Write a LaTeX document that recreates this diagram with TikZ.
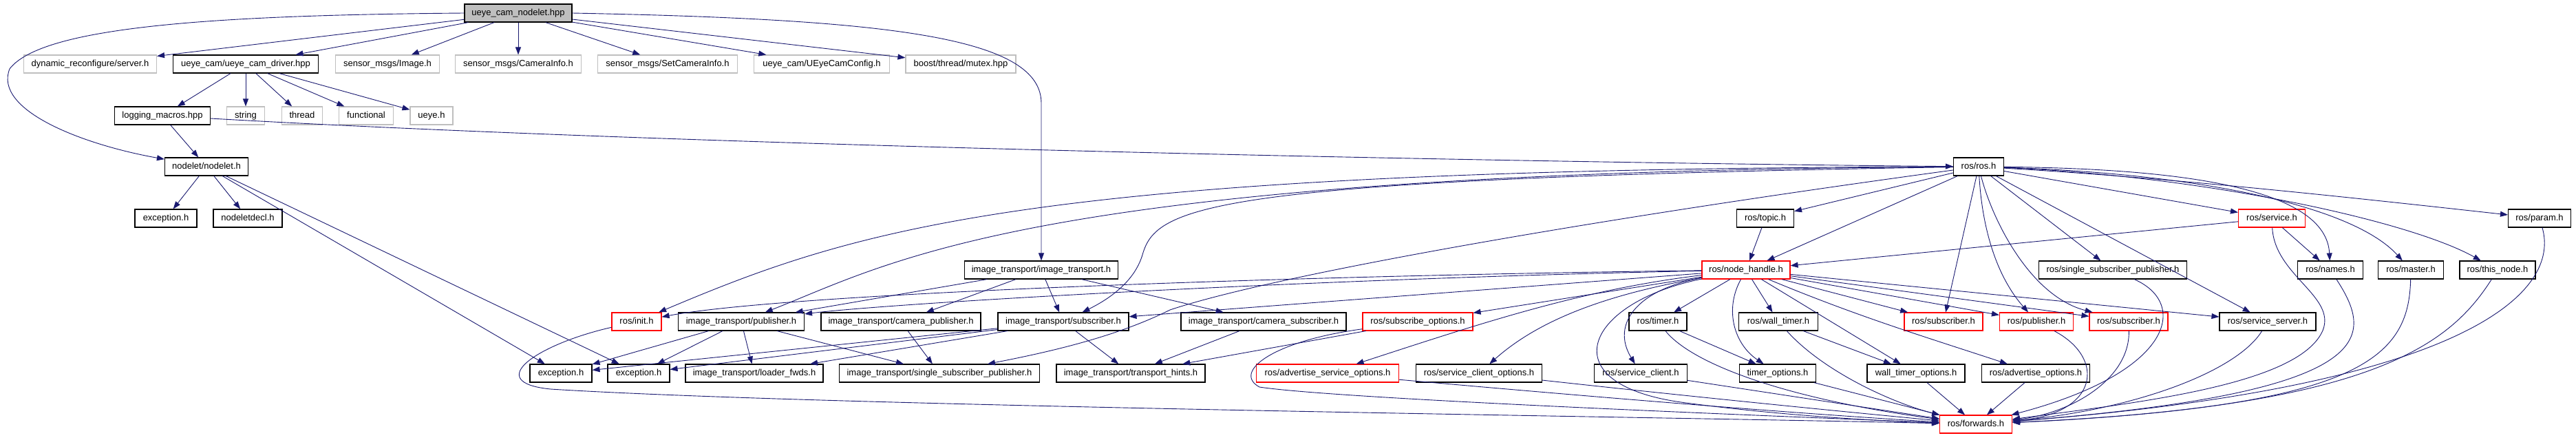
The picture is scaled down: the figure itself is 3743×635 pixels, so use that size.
\documentclass[tikz,border=0pt]{standalone}
\usepackage{fontspec}
\setmainfont{Liberation Sans}
\usepackage{tikz}
\usetikzlibrary{arrows.meta}

\definecolor{edgeblue}{RGB}{25,25,112}
\definecolor{boxgray}{RGB}{191,191,191}

\begin{document}
\begin{tikzpicture}[x=1pt,y=1pt,yscale=-1,
  hdr/.style={draw=black,line width=1.1pt,minimum height=26pt,inner sep=0pt,
    text height=10pt,text depth=3pt,font=\fontsize{13}{15}\selectfont},
  ext/.style={hdr,draw=boxgray},
  trunc/.style={hdr,draw=red},
  root/.style={hdr,fill=boxgray},
  inc/.style={draw=edgeblue,line width=0.9pt,-{Triangle[length=11pt,width=8pt]}}]
  \useasboundingbox (0,0) rectangle (3743,635);

  % Text Node: the file itself
  \node[root,minimum width=156pt] (self) at (753,19) {ueye\_cam\_nodelet.hpp};

  % Text Node: row 1
  \node[ext,minimum width=193pt] (dynsrv) at (131,93) {dynamic\_reconfigure/server.h};
  \node[hdr,minimum width=211pt] (driver) at (357,93) {ueye\_cam/ueye\_cam\_driver.hpp};
  \node[ext,minimum width=151pt] (simg) at (563,93) {sensor\_msgs/Image.h};
  \node[ext,minimum width=183pt] (scinfo) at (753,93) {sensor\_msgs/CameraInfo.h};
  \node[ext,minimum width=203pt] (ssetci) at (970,93) {sensor\_msgs/SetCameraInfo.h};
  \node[ext,minimum width=197pt] (ucfg) at (1194,93) {ueye\_cam/UEyeCamConfig.h};
  \node[ext,minimum width=160pt] (mutex) at (1396,93) {boost/thread/mutex.hpp};

  % Text Node: row 2
  \node[hdr,minimum width=139pt] (logmac) at (236,168) {logging\_macros.hpp};
  \node[ext,minimum width=55pt] (string) at (357,168) {string};
  \node[ext,minimum width=59pt] (thread) at (439,168) {thread};
  \node[ext,minimum width=79pt] (functional) at (532,168) {functional};
  \node[ext,minimum width=62pt] (ueyeh) at (627,168) {ueye.h};

  % Text Node: row 3
  \node[hdr,minimum width=121pt] (nodelet) at (300,242) {nodelet/nodelet.h};
  \node[hdr,minimum width=73pt] (ros) at (2875,242) {ros/ros.h};

  % Text Node: row 4
  \node[hdr,minimum width=90pt] (excA) at (241,317) {exception.h};
  \node[hdr,minimum width=100pt] (ndecl) at (360,317) {nodeletdecl.h};
  \node[hdr,minimum width=83pt] (topic) at (2565,317) {ros/topic.h};
  \node[trunc,minimum width=97pt] (service) at (3301,317) {ros/service.h};
  \node[hdr,minimum width=91pt] (param) at (3690,317) {ros/param.h};

  % Text Node: row 5
  \node[hdr,minimum width=223pt] (itrans) at (1513,392) {image\_transport/image\_transport.h};
  \node[trunc,minimum width=128pt] (nh) at (2537,392) {ros/node\_handle.h};
  \node[hdr,minimum width=215pt] (rssp) at (3070,392) {ros/single\_subscriber\_publisher.h};
  \node[hdr,minimum width=95pt] (names) at (3386,392) {ros/names.h};
  \node[hdr,minimum width=95pt] (master) at (3503,392) {ros/master.h};
  \node[hdr,minimum width=110pt] (thisnode) at (3629,392) {ros/this\_node.h};

  % Text Node: row 6
  \node[trunc,minimum width=72pt] (init) at (925,467) {ros/init.h};
  \node[hdr,minimum width=183pt] (itpub) at (1077,467) {image\_transport/publisher.h};
  \node[hdr,minimum width=232pt] (itcampub) at (1309,467) {image\_transport/camera\_publisher.h};
  \node[hdr,minimum width=190pt] (itsub) at (1545,467) {image\_transport/subscriber.h};
  \node[hdr,minimum width=240pt] (itcamsub) at (1836,467) {image\_transport/camera\_subscriber.h};
  \node[trunc,minimum width=160pt] (subopt) at (2060,467) {ros/subscribe\_options.h};
  \node[hdr,minimum width=84pt] (timer) at (2409,467) {ros/timer.h};
  \node[hdr,minimum width=115pt] (walltimer) at (2584,467) {ros/wall\_timer.h};
  \node[trunc,minimum width=114pt] (subA) at (2824,467) {ros/subscriber.h};
  \node[trunc,minimum width=107pt] (pub) at (2959,467) {ros/publisher.h};
  \node[trunc,minimum width=114pt] (subB) at (3093,467) {ros/subscriber.h};
  \node[hdr,minimum width=140pt] (srvsrv) at (3295,467) {ros/service\_server.h};

  % Text Node: row 7
  \node[hdr,minimum width=90pt] (excB) at (815,542) {exception.h};
  \node[hdr,minimum width=90pt] (excC) at (928,542) {exception.h};
  \node[hdr,minimum width=200pt] (ldfwd) at (1096,542) {image\_transport/loader\_fwds.h};
  \node[hdr,minimum width=291pt] (itssp) at (1365,542) {image\_transport/single\_subscriber\_publisher.h};
  \node[hdr,minimum width=216pt] (hints) at (1643,542) {image\_transport/transport\_hints.h};
  \node[trunc,minimum width=207pt] (advsrvopt) at (1929,542) {ros/advertise\_service\_options.h};
  \node[hdr,minimum width=183pt] (srvcliopt) at (2149,542) {ros/service\_client\_options.h};
  \node[hdr,minimum width=135pt] (srvcli) at (2384,542) {ros/service\_client.h};
  \node[hdr,minimum width=111pt] (timeropt) at (2583,542) {timer\_options.h};
  \node[hdr,minimum width=142pt] (wtopt) at (2784,542) {wall\_timer\_options.h};
  \node[hdr,minimum width=157pt] (advopt) at (2958,542) {ros/advertise\_options.h};

  % Text Node: row 8
  \node[trunc,minimum width=105pt] (fwd) at (2871,616) {ros/forwards.h};

  % Straight Lines: ueye_cam_nodelet.hpp
  \draw[inc] (self) -- (dynsrv);
  \draw[inc] (self) -- (driver);
  \draw[inc] (self) -- (simg);
  \draw[inc] (self) -- (scinfo);
  \draw[inc] (self) -- (ssetci);
  \draw[inc] (self) -- (ucfg);
  \draw[inc] (self) -- (mutex);
  \draw[inc] (self.west) .. controls (300,22) and (60,40) .. (14,100) .. controls (-10,160) and (120,210) .. (nodelet);
  \draw[inc] (self.east) .. controls (1300,28) and (1513,55) .. (1513,150) -- (itrans);

  % Straight Lines: driver and logging
  \draw[inc] (driver) -- (logmac);
  \draw[inc] (driver) -- (string);
  \draw[inc] (driver) -- (thread);
  \draw[inc] (driver) -- (functional);
  \draw[inc] (driver) -- (ueyeh);
  \draw[inc] (logmac) -- (nodelet);
  \draw[inc] (logmac) .. controls (1000,212) and (2200,236) .. (ros);

  % Straight Lines: nodelet
  \draw[inc] (nodelet) -- (excA);
  \draw[inc] (nodelet) -- (ndecl);
  \draw[inc] (nodelet) -- (excB);
  \draw[inc] (nodelet) -- (excC);

  % Curves: ros/ros.h
  \draw[inc] (ros) -- (topic);
  \draw[inc] (ros) -- (nh);
  \draw[inc] (ros) .. controls (1500,245) and (1250,330) .. (init);
  \draw[inc] (ros) .. controls (1500,250) and (1300,380) .. (itpub);
  \draw[inc] (ros) .. controls (1750,260) and (1680,300) .. (1660,370) .. controls (1648,410) and (1610,435) .. (itsub);
  \draw[inc] (ros) .. controls (2300,320) and (1850,400) .. (1700,450) .. controls (1620,490) and (1520,512) .. (itssp);
  \draw[inc] (ros) -- (subA);
  \draw[inc] (ros) .. controls (2880,330) and (2900,400) .. (pub);
  \draw[inc] (ros) .. controls (2895,320) and (2950,430) .. (subB);
  \draw[inc] (ros) -- (rssp);
  \draw[inc] (ros) -- (srvsrv);
  \draw[inc] (ros) -- (service);
  \draw[inc] (ros) .. controls (3200,245) and (3380,280) .. (names);
  \draw[inc] (ros) .. controls (3200,252) and (3420,300) .. (master);
  \draw[inc] (ros) .. controls (3200,255) and (3500,320) .. (thisnode);
  \draw[inc] (ros) .. controls (3150,258) and (3400,285) .. (param);

  % Curves: right hand headers
  \draw[inc] (topic) -- (nh);
  \draw[inc] (service) -- (nh);
  \draw[inc] (service) -- (names);
  \draw[inc] (service) .. controls (3305,400) and (3395,430) .. (3375,480) .. controls (3340,560) and (3100,585) .. (fwd);
  \draw[inc] (names) .. controls (3450,490) and (3460,570) .. (fwd);
  \draw[inc] (master) .. controls (3500,520) and (3430,590) .. (fwd);
  \draw[inc] (thisnode) .. controls (3560,500) and (3450,590) .. (fwd);
  \draw[inc] (param) .. controls (3720,420) and (3600,560) .. (fwd);
  \draw[inc] (srvsrv) .. controls (3250,540) and (3100,595) .. (fwd);
  \draw[inc] (rssp) .. controls (3180,440) and (3160,540) .. (fwd);
  \draw[inc] (subB) .. controls (3095,550) and (3010,600) .. (fwd);
  \draw[inc] (pub) .. controls (3060,520) and (3050,600) .. (fwd);
  \draw[inc] (wtopt) -- (fwd);
  \draw[inc] (advopt) -- (fwd);
  \draw[inc] (timeropt) -- (fwd);
  \draw[inc] (walltimer) .. controls (2650,540) and (2750,585) .. (fwd);
  \draw[inc] (timer) .. controls (2460,530) and (2600,580) .. (fwd);
  \draw[inc] (timer) -- (timeropt);
  \draw[inc] (walltimer) -- (wtopt);

  % Curves: ros/node_handle.h
  \draw[inc] (nh) -- (subopt);
  \draw[inc] (nh) .. controls (2300,420) and (2150,470) .. (advsrvopt);
  \draw[inc] (nh) .. controls (2320,430) and (2230,470) .. (srvcliopt);
  \draw[inc] (nh) .. controls (2380,420) and (2340,470) .. (srvcli);
  \draw[inc] (nh) .. controls (2300,440) and (2250,560) .. (2450,585) .. controls (2600,605) and (2750,612) .. (fwd);
  \draw[inc] (nh) -- (timer);
  \draw[inc] (nh) .. controls (2505,450) and (2520,500) .. (timeropt);
  \draw[inc] (nh) -- (walltimer);
  \draw[inc] (nh) -- (wtopt);
  \draw[inc] (nh) .. controls (2700,460) and (2800,490) .. (advopt);
  \draw[inc] (nh) -- (subA);
  \draw[inc] (nh) -- (pub);
  \draw[inc] (nh) -- (subB);
  \draw[inc] (nh) -- (srvsrv);
  \draw[inc] (nh) .. controls (1900,400) and (1150,425) .. (init);
  \draw[inc] (nh) .. controls (1900,405) and (1300,440) .. (itpub);
  \draw[inc] (nh) -- (itsub);

  % Straight Lines: image_transport
  \draw[inc] (itrans) -- (itpub);
  \draw[inc] (itrans) -- (itcampub);
  \draw[inc] (itrans) -- (itsub);
  \draw[inc] (itrans) -- (itcamsub);
  \draw[inc] (itpub) -- (excB);
  \draw[inc] (itpub) -- (excC);
  \draw[inc] (itpub) -- (ldfwd);
  \draw[inc] (itpub) -- (itssp);
  \draw[inc] (itsub) -- (excB);
  \draw[inc] (itsub) -- (excC);
  \draw[inc] (itsub) -- (ldfwd);
  \draw[inc] (itsub) -- (hints);
  \draw[inc] (itcampub) -- (itssp);
  \draw[inc] (itcamsub) -- (hints);

  % Curves: options into forwards
  \draw[inc] (subopt) -- (hints);
  \draw[inc] (subopt) .. controls (1850,495) and (1790,540) .. (1830,562) .. controls (1950,580) and (2600,605) .. (fwd);
  \draw[inc] (advsrvopt) .. controls (2300,575) and (2600,600) .. (fwd);
  \draw[inc] (srvcliopt) .. controls (2450,575) and (2650,595) .. (fwd);
  \draw[inc] (srvcli) -- (fwd);
  \draw[inc] (init) .. controls (780,500) and (700,555) .. (800,565) .. controls (1200,590) and (2400,605) .. (fwd);

\end{tikzpicture}
\end{document}
